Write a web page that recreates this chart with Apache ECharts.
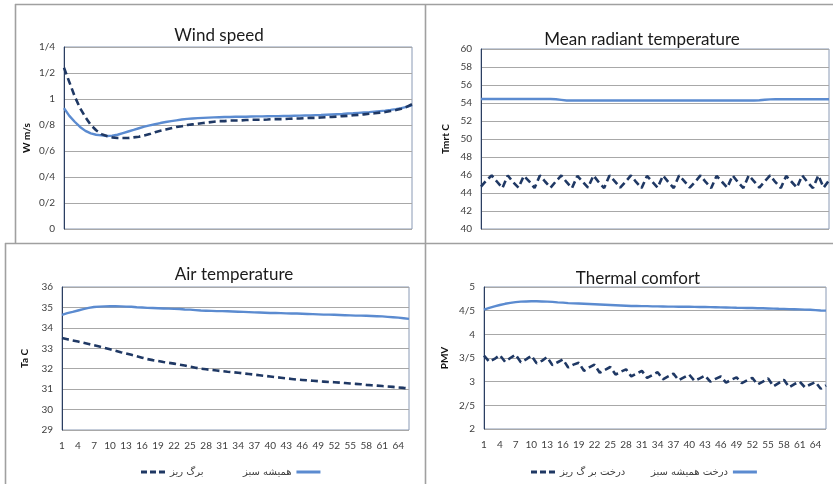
<!DOCTYPE html>
<html>
<head>
<meta charset="utf-8">
<script src="https://cdn.jsdelivr.net/npm/echarts@6/dist/echarts.min.js"></script>
<style>
  html, body { margin: 0; padding: 0; background: #fff; }
  #chart { width: 833px; height: 484px; }
</style>
</head>
<body>
<div id="chart"></div>
<script>
// time steps 1..66
var steps = Array.from({ length: 66 }, function (_, i) { return String(i + 1) })

var nameDeciduous = 'برگ ریز'
var nameEvergreen = 'همیشه سبز'
var nameDeciduousTree = 'درخت بر گ ریز'
var nameEvergreenTree = 'درخت همیشه سبز'

// Wind speed (m/s)
var windDeciduous = [1.24, 1.13, 1.02, 0.93, 0.86, 0.80, 0.76, 0.73, 0.715, 0.705, 0.70, 0.70, 0.70, 0.705, 0.71, 0.72,
  0.73, 0.745, 0.755, 0.765, 0.775, 0.785, 0.79, 0.80, 0.805, 0.81, 0.815, 0.82, 0.825, 0.83, 0.83, 0.835, 0.835,
  0.835, 0.838, 0.84, 0.84, 0.84, 0.842, 0.845, 0.845, 0.845, 0.848, 0.85, 0.85, 0.852, 0.855, 0.855, 0.858, 0.86,
  0.862, 0.865, 0.868, 0.87, 0.875, 0.878, 0.882, 0.886, 0.89, 0.895, 0.90, 0.907, 0.915, 0.925, 0.94, 0.96]
var windEvergreen = [0.93, 0.87, 0.825, 0.785, 0.755, 0.735, 0.725, 0.72, 0.715, 0.718, 0.725, 0.738, 0.75, 0.762,
  0.775, 0.787, 0.797, 0.806, 0.815, 0.823, 0.83, 0.836, 0.842, 0.847, 0.85, 0.853, 0.855, 0.857, 0.859, 0.86, 0.861,
  0.862, 0.863, 0.864, 0.864, 0.865, 0.866, 0.866, 0.867, 0.868, 0.868, 0.869, 0.87, 0.871, 0.872, 0.873, 0.874,
  0.876, 0.877, 0.879, 0.881, 0.883, 0.885, 0.888, 0.89, 0.893, 0.896, 0.899, 0.903, 0.907, 0.911, 0.916, 0.922,
  0.93, 0.94, 0.952]

// Mean radiant temperature (C)
var tmrtDeciduous = [44.7, 45.4, 45.95, 45.25, 44.55, 45.95, 45.2, 44.6, 45.9, 45.3, 44.55, 45.95, 45.25, 44.6, 45.3,
  45.95, 45.2, 44.55, 45.9, 45.25, 44.6, 45.95, 45.2, 44.55, 45.95, 45.3, 44.6, 45.25, 45.95, 45.2, 44.55, 45.9,
  45.25, 44.6, 45.95, 45.2, 44.55, 45.95, 45.3, 44.6, 45.25, 45.95, 45.2, 44.55, 45.9, 45.25, 44.6, 45.95, 45.2,
  44.55, 45.95, 45.3, 44.6, 45.3, 45.95, 45.2, 44.55, 45.9, 45.25, 44.6, 45.95, 45.2, 44.55, 45.95, 44.6, 45.4]
var tmrtEvergreen = [54.45, 54.45, 54.45, 54.45, 54.45, 54.45, 54.45, 54.45, 54.45, 54.45, 54.45, 54.45, 54.45,
  54.45, 54.42, 54.35, 54.28, 54.27, 54.27, 54.27, 54.27, 54.27, 54.27, 54.27, 54.27, 54.27, 54.27, 54.27, 54.27,
  54.27, 54.27, 54.27, 54.27, 54.27, 54.27, 54.27, 54.27, 54.27, 54.27, 54.27, 54.27, 54.27, 54.27, 54.27, 54.27,
  54.27, 54.27, 54.27, 54.27, 54.27, 54.27, 54.28, 54.3, 54.36, 54.4, 54.41, 54.41, 54.41, 54.41, 54.41, 54.41,
  54.41, 54.41, 54.41, 54.41, 54.41]

// Air temperature (C)
var airDeciduous = [33.5, 33.44, 33.38, 33.33, 33.27, 33.21, 33.15, 33.09, 33.02, 32.95, 32.88, 32.81, 32.75, 32.68,
  32.61, 32.54, 32.47, 32.42, 32.38, 32.33, 32.29, 32.25, 32.2, 32.16, 32.1, 32.05, 32.0, 31.97, 31.94, 31.91, 31.88,
  31.85, 31.83, 31.8, 31.77, 31.74, 31.71, 31.68, 31.65, 31.62, 31.59, 31.56, 31.53, 31.5, 31.47, 31.45, 31.43,
  31.41, 31.39, 31.37, 31.35, 31.34, 31.32, 31.3, 31.28, 31.26, 31.24, 31.21, 31.19, 31.17, 31.15, 31.13, 31.11,
  31.08, 31.06, 31.03]
var airEvergreen = [34.64, 34.72, 34.78, 34.85, 34.92, 34.98, 35.02, 35.04, 35.05, 35.06, 35.06, 35.05, 35.04, 35.03,
  35.01, 35.0, 34.98, 34.97, 34.96, 34.95, 34.94, 34.93, 34.92, 34.9, 34.89, 34.87, 34.85, 34.84, 34.83, 34.82,
  34.82, 34.81, 34.8, 34.79, 34.78, 34.77, 34.76, 34.75, 34.74, 34.73, 34.73, 34.72, 34.71, 34.7, 34.7, 34.69,
  34.68, 34.67, 34.66, 34.65, 34.65, 34.64, 34.63, 34.62, 34.61, 34.6, 34.6, 34.59, 34.58, 34.57, 34.56, 34.54,
  34.52, 34.5, 34.47, 34.44]

// Thermal comfort (PMV)
var pmvDeciduous = [3.55, 3.42, 3.48, 3.56, 3.42, 3.5, 3.57, 3.41, 3.47, 3.55, 3.39, 3.44, 3.52, 3.35, 3.41, 3.47,
  3.3, 3.36, 3.4, 3.23, 3.3, 3.36, 3.19, 3.25, 3.31, 3.15, 3.21, 3.26, 3.11, 3.17, 3.23, 3.08, 3.14, 3.2, 3.05, 3.11,
  3.17, 3.03, 3.09, 3.15, 3.02, 3.07, 3.13, 3.0, 3.06, 3.11, 2.98, 3.04, 3.09, 2.97, 3.03, 3.08, 2.94, 3.0, 3.07,
  2.9, 2.97, 3.04, 2.88, 2.95, 3.0, 2.88, 2.94, 2.99, 2.85, 2.92]
var pmvEvergreen = [4.52, 4.56, 4.59, 4.62, 4.645, 4.665, 4.68, 4.69, 4.695, 4.7, 4.7, 4.695, 4.69, 4.685, 4.675,
  4.67, 4.66, 4.655, 4.65, 4.645, 4.64, 4.635, 4.63, 4.625, 4.62, 4.615, 4.61, 4.605, 4.6, 4.6, 4.595, 4.595, 4.59,
  4.59, 4.588, 4.586, 4.585, 4.584, 4.583, 4.582, 4.58, 4.578, 4.576, 4.574, 4.572, 4.57, 4.568, 4.565, 4.562,
  4.56, 4.557, 4.555, 4.552, 4.55, 4.547, 4.544, 4.54, 4.537, 4.533, 4.53, 4.527, 4.523, 4.518, 4.512, 4.505, 4.5]

var dark = '#1f3864'
var light = '#5b8bd0'

var grids = [
  { left: 64, top: 47, width: 348, height: 182 },
  { left: 481, top: 49, width: 348, height: 180 },
  { left: 62, top: 287, width: 347, height: 143 },
  { left: 484, top: 287, width: 342, height: 142 }
]
var yRanges = [[0, 1.4, 0.2], [40, 60, 2], [29, 36, 1], [2, 5, 0.5]]
var yNames = ['W m/s', 'Tmrt C', 'Ta C', 'PMV']
var yNameGaps = [32, 30, 32, 34]

function slashDecimal(v) {
  return String(Math.round(v * 10) / 10).replace('.', '/')
}

var titles = [
  { text: 'Wind speed', left: 214, top: 22 },
  { text: 'Mean radiant temperature', left: 637, top: 26 },
  { text: 'Air temperature', left: 229, top: 261 },
  { text: 'Thermal comfort', left: 633, top: 265 }
].map(function (t) {
  return {
    text: t.text, left: t.left, top: t.top, textAlign: 'center',
    textStyle: { fontFamily: 'Lato', fontSize: 17, fontWeight: 'normal', color: '#1a1a1a' }
  }
})

var xAxes = grids.map(function (g, i) {
  return {
    type: 'category', gridIndex: i, data: steps, boundaryGap: false,
    axisLine: { show: false }, axisTick: { show: false },
    axisLabel: { show: i >= 2, interval: 2, color: '#404040', fontSize: 10, fontFamily: 'Lato', margin: 11 },
    splitLine: { show: false }
  }
})

var yAxes = grids.map(function (g, i) {
  return {
    type: 'value', gridIndex: i,
    min: yRanges[i][0], max: yRanges[i][1], interval: yRanges[i][2],
    name: yNames[i], nameLocation: 'middle', nameGap: yNameGaps[i], nameRotate: 90,
    nameTextStyle: { fontFamily: 'Lato', fontSize: 10, fontWeight: 'bold', color: '#111' },
    axisLine: { show: true, lineStyle: { color: '#2c3e60', width: 1 } },
    axisTick: { show: false },
    axisLabel: { color: '#404040', fontSize: 10, fontFamily: 'Lato', margin: 9, formatter: slashDecimal },
    splitLine: { lineStyle: { color: '#a8a8a8', width: 1 } }
  }
})

function line(name, data, idx, dashed) {
  return {
    name: name, type: 'line', xAxisIndex: idx, yAxisIndex: idx, data: data,
    symbol: 'none', smooth: false, animation: false,
    lineStyle: dashed ? { color: dark, width: 2.6, type: [7, 4] } : { color: light, width: 2.4 },
    itemStyle: { color: dashed ? dark : light }
  }
}

var series = [
  line(nameEvergreen, windEvergreen, 0, false),
  line(nameDeciduous, windDeciduous, 0, true),
  line(nameEvergreen + ' ', tmrtEvergreen, 1, false),
  line(nameDeciduous + ' ', tmrtDeciduous, 1, true),
  line(nameEvergreen + '  ', airEvergreen, 2, false),
  line(nameDeciduous + '  ', airDeciduous, 2, true),
  line(nameEvergreenTree, pmvEvergreen, 3, false),
  line(nameDeciduousTree, pmvDeciduous, 3, true)
]

var dashIcon = 'path://M0,0h6v3h-6z M9,0h6v3h-6z M18,0h6v3h-6z'
var solidIcon = 'path://M0,0h24v3h-24z'

var legendText = { fontFamily: 'DejaVu Sans', fontSize: 10, color: '#404040' }
var legends = [
  { name: nameDeciduous + '  ', icon: dashIcon, left: 136, align: 'left' },
  { name: nameEvergreen + '  ', icon: solidIcon, left: 238, align: 'right' },
  { name: nameDeciduousTree, icon: dashIcon, left: 526, align: 'left' },
  { name: nameEvergreenTree, icon: solidIcon, left: 646, align: 'right' }
].map(function (l) {
  return {
    data: [{ name: l.name, icon: l.icon }], left: l.left, top: 462, align: l.align, orient: 'horizontal',
    itemWidth: 24, itemHeight: 3, itemGap: 8, selectedMode: false,
    textStyle: legendText,
    formatter: function (n) { return n.trim() }
  }
})

var frameColor = '#a0a0a0'
var graphic = [
  { type: 'line', shape: { x1: 15, y1: 4.5, x2: 833, y2: 4.5 } },
  { type: 'line', shape: { x1: 15.5, y1: 4, x2: 15.5, y2: 243 } },
  { type: 'line', shape: { x1: 5.5, y1: 243, x2: 5.5, y2: 484 } },
  { type: 'line', shape: { x1: 5, y1: 243.5, x2: 833, y2: 243.5 } },
  { type: 'line', shape: { x1: 425.5, y1: 4, x2: 425.5, y2: 484 } }
].map(function (g) {
  g.style = { stroke: frameColor, lineWidth: 1.6 }
  g.silent = true
  return g
})

var chart = echarts.init(document.getElementById('chart'))
chart.setOption({
  backgroundColor: '#ffffff',
  animation: false,
  title: titles,
  grid: grids.map(function (g) {
    return { left: g.left, top: g.top, width: g.width, height: g.height, show: true, borderColor: '#8a9ab5', borderWidth: 1, backgroundColor: 'transparent' }
  }),
  xAxis: xAxes,
  yAxis: yAxes,
  legend: legends,
  series: series,
  graphic: graphic
})
</script>
</body>
</html>
